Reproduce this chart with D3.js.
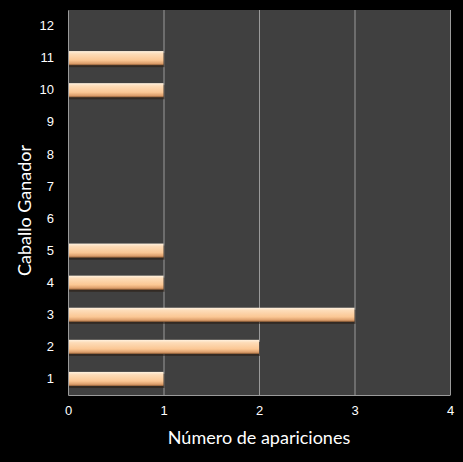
<!DOCTYPE html>
<html>
<head>
<meta charset="utf-8">
<script src="https://cdn.jsdelivr.net/npm/d3@7"></script>
<style>
  html, body { margin: 0; padding: 0; background: #000; }
  svg { display: block; font-family: Lato, "Open Sans", sans-serif; }
</style>
</head>
<body>
<div id="chart"></div>
<script>
const categories = ["1", "2", "3", "4", "5", "6", "7", "8", "9", "10", "11", "12"];
const values = [1, 2, 3, 1, 1, 0, 0, 0, 0, 1, 1, 0];
const xTicks = [0, 1, 2, 3, 4];

const width = 463;
const height = 462;
const margin = { top: 10, right: 13, bottom: 67, left: 68 };

const svg = d3.select("#chart")
    .append("svg")
    .attr("width", width)
    .attr("height", height);

svg.append("rect")
    .attr("width", width)
    .attr("height", height)
    .attr("fill", "#000");

const defs = svg.append("defs");
const grad = defs.append("linearGradient")
    .attr("id", "barGrad")
    .attr("x1", 0).attr("y1", 0).attr("x2", 0).attr("y2", 1);
grad.append("stop").attr("offset", "0%").attr("stop-color", "#fff2e0");
grad.append("stop").attr("offset", "20%").attr("stop-color", "#fddcb8");
grad.append("stop").attr("offset", "65%").attr("stop-color", "#fbc794");
grad.append("stop").attr("offset", "88%").attr("stop-color", "#dc9e6b");
grad.append("stop").attr("offset", "100%").attr("stop-color", "#8a5a34");

const x = d3.scaleLinear()
    .domain([0, 4])
    .range([margin.left, width - margin.right]);

const y = d3.scaleBand()
    .domain(categories)
    .range([height - margin.bottom, margin.top])
    .paddingInner(0.56)
    .paddingOuter(0.28);

// plot area
svg.append("rect")
    .attr("x", margin.left)
    .attr("y", margin.top)
    .attr("width", width - margin.left - margin.right)
    .attr("height", height - margin.top - margin.bottom)
    .attr("fill", "#404040");

// gridlines
svg.append("g")
    .selectAll("line")
    .data(xTicks.slice(1))
    .enter()
    .append("line")
    .attr("x1", d => x(d) + 0.5)
    .attr("x2", d => x(d) + 0.5)
    .attr("y1", margin.top)
    .attr("y2", height - margin.bottom)
    .attr("stroke", "#9a9a9a")
    .attr("stroke-width", 1);

// bar shadows
svg.append("g")
    .selectAll("rect")
    .data(categories.filter((c, i) => values[i] > 0))
    .enter()
    .append("rect")
    .attr("x", x(0) + 1)
    .attr("y", d => y(d) + 2)
    .attr("width", d => x(values[categories.indexOf(d)]) - x(0))
    .attr("height", y.bandwidth())
    .attr("fill", "#2a1c12")
    .attr("opacity", 0.6);

// bars
svg.append("g")
    .selectAll("rect")
    .data(categories.filter((c, i) => values[i] > 0))
    .enter()
    .append("rect")
    .attr("x", x(0))
    .attr("y", d => y(d))
    .attr("width", d => x(values[categories.indexOf(d)]) - x(0))
    .attr("height", y.bandwidth())
    .attr("fill", "url(#barGrad)");

// axes
const xAxis = svg.append("g")
    .attr("transform", `translate(0,${height - margin.bottom})`)
    .call(d3.axisBottom(x).tickValues(xTicks).tickFormat(d3.format("d")).tickSize(0).tickPadding(11));
xAxis.select(".domain").attr("stroke", "#9a9a9a");
xAxis.selectAll("text").attr("fill", "#fff").style("font-size", "13px");

const yAxis = svg.append("g")
    .attr("transform", `translate(${margin.left},0)`)
    .call(d3.axisLeft(y).tickSize(0).tickPadding(14));
yAxis.select(".domain").attr("stroke", "#9a9a9a");
yAxis.selectAll("text").attr("fill", "#fff").style("font-size", "13px");

// titles
svg.append("text")
    .attr("x", (margin.left + width - margin.right) / 2)
    .attr("y", 444)
    .attr("text-anchor", "middle")
    .attr("fill", "#fff")
    .style("font-size", "18px")
    .text("Número de apariciones");

svg.append("text")
    .attr("transform", `translate(31,${(margin.top + height - margin.bottom) / 2 + 8}) rotate(-90)`)
    .attr("text-anchor", "middle")
    .attr("fill", "#fff")
    .style("font-size", "18px")
    .text("Caballo Ganador");
</script>
</body>
</html>
